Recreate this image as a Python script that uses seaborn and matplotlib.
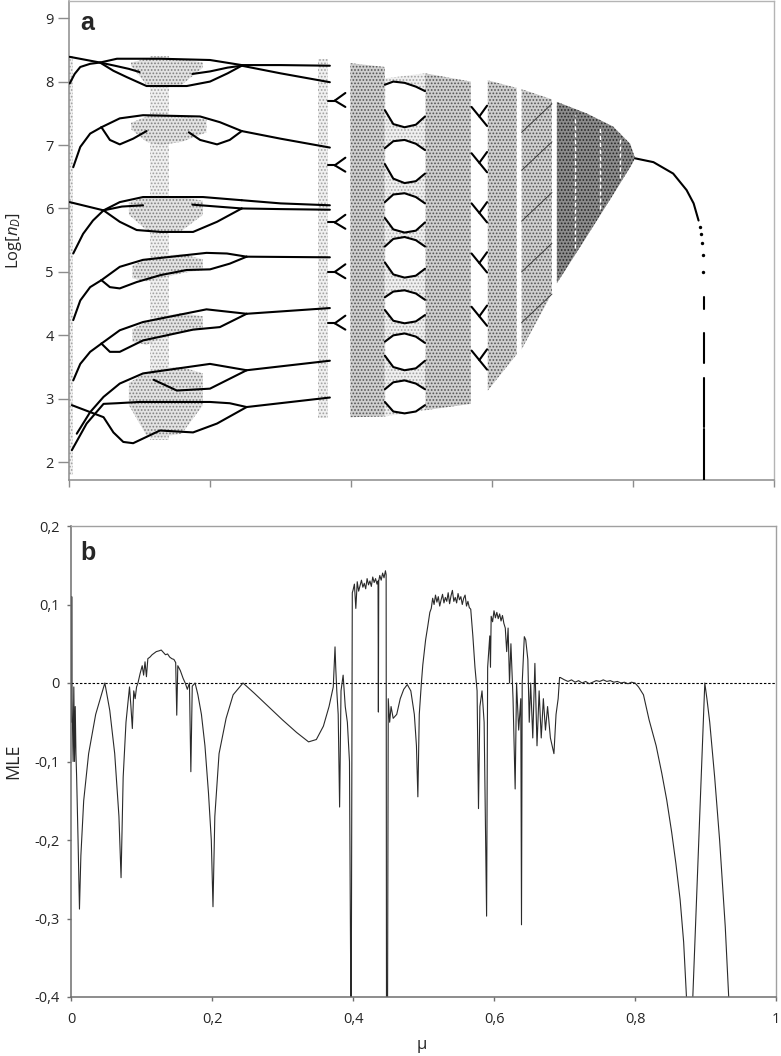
import numpy as np
import pandas as pd
import matplotlib
matplotlib.use("Agg")
import matplotlib.pyplot as plt
import seaborn as sns

# ------------------------------------------------------------------ DATA
# ---- panel a : branch curves (mu, Log[n_D])
br8_a = ([0.001, 0.044, 0.063, 0.082, 0.110, 0.167, 0.200, 0.225, 0.245],
         [8.39, 8.30, 8.17, 8.07, 7.93, 7.93, 8.00, 8.13, 8.25])
br8_b = ([0.001, 0.008, 0.016, 0.030, 0.044, 0.068, 0.130, 0.200, 0.245],
         [7.97, 8.12, 8.23, 8.28, 8.30, 8.36, 8.36, 8.34, 8.26])
br8_c = ([0.044, 0.065, 0.085, 0.100], [8.30, 8.25, 8.20, 8.15])
br8_d = ([0.175, 0.200, 0.225, 0.245], [8.12, 8.16, 8.22, 8.25])
br8_e = ([0.245, 0.300, 0.370], [8.26, 8.26, 8.25])
br8_f = ([0.245, 0.300, 0.370], [8.25, 8.13, 7.99])

br7_rise = ([0.006, 0.016, 0.030, 0.046], [6.65, 6.97, 7.18, 7.28])
br7_up = ([0.046, 0.072, 0.105, 0.186, 0.214, 0.245], [7.28, 7.42, 7.47, 7.45, 7.36, 7.22])
br7_lo = ([0.046, 0.058, 0.072, 0.091, 0.110], [7.28, 7.08, 7.01, 7.10, 7.22])
br7_lo2 = ([0.170, 0.186, 0.210, 0.228, 0.245], [7.20, 7.08, 7.01, 7.08, 7.22])
br7_after = ([0.245, 0.300, 0.370], [7.22, 7.10, 6.96])

br6_a = ([0.001, 0.049, 0.072, 0.096, 0.130, 0.176, 0.210, 0.245],
         [6.10, 5.97, 5.79, 5.66, 5.63, 5.63, 5.79, 6.00])
br6_b = ([0.006, 0.020, 0.034, 0.049, 0.072, 0.105, 0.190, 0.245],
         [5.29, 5.60, 5.81, 5.97, 6.10, 6.18, 6.18, 6.13])
br6_c = ([0.049, 0.075, 0.105], [5.97, 6.03, 6.05])
br6_d = ([0.175, 0.210, 0.245], [6.06, 6.03, 6.00])
br6_e = ([0.245, 0.300, 0.370], [6.13, 6.08, 6.05])
br6_f = ([0.245, 0.300, 0.370], [6.00, 5.99, 5.98])

br5_rise = ([0.006, 0.016, 0.030, 0.046], [4.24, 4.55, 4.76, 4.87])
br5_up = ([0.046, 0.072, 0.105, 0.195, 0.224, 0.252], [4.87, 5.08, 5.19, 5.30, 5.29, 5.24])
br5_lo = ([0.046, 0.058, 0.072, 0.096, 0.130, 0.167, 0.200, 0.228, 0.252],
          [4.87, 4.76, 4.74, 4.84, 4.95, 5.03, 5.04, 5.13, 5.24])
br5_after = ([0.252, 0.370], [5.24, 5.23])

br4_rise = ([0.006, 0.016, 0.030, 0.046], [3.29, 3.55, 3.74, 3.87])
br4_up = ([0.046, 0.072, 0.105, 0.195, 0.252], [3.87, 4.08, 4.21, 4.41, 4.34])
br4_lo = ([0.046, 0.058, 0.072, 0.105, 0.176, 0.214, 0.252], [3.87, 3.74, 3.74, 3.92, 4.09, 4.13, 4.34])
br4_after = ([0.252, 0.370], [4.34, 4.43])

br3_rise = ([0.011, 0.030, 0.049, 0.072, 0.105, 0.200, 0.252], [2.45, 2.79, 3.03, 3.24, 3.40, 3.55, 3.45])
br3_lo = ([0.120, 0.153, 0.200, 0.252], [3.30, 3.13, 3.16, 3.45])
br3_after = ([0.252, 0.370], [3.45, 3.60])

br2_a = ([0.004, 0.049, 0.063, 0.077, 0.091, 0.110, 0.129, 0.176, 0.210, 0.252],
         [2.90, 2.71, 2.47, 2.32, 2.30, 2.40, 2.50, 2.47, 2.61, 2.87])
br2_b = ([0.004, 0.025, 0.049, 0.068, 0.100, 0.200, 0.228, 0.252],
         [2.19, 2.61, 2.92, 2.93, 2.95, 2.95, 2.93, 2.87])
br2_after = ([0.252, 0.370], [2.87, 3.02])

# small period-doubling forks near mu = 0.37-0.39
forkB_levels = [7.70, 6.68, 5.78, 5.00, 4.19]
# periodic window 0.448-0.505 (lens shaped orbits)
lensD_mu = [0.448, 0.460, 0.476, 0.492, 0.505]
lensD_upper = [[7.95, 8.00, 7.98, 7.92, 7.85], [6.95, 7.06, 7.08, 7.02, 6.92],
               [6.10, 6.22, 6.24, 6.18, 6.08], [5.40, 5.52, 5.55, 5.50, 5.40],
               [4.60, 4.69, 4.71, 4.66, 4.56], [3.90, 4.00, 4.03, 3.98, 3.88],
               [3.15, 3.26, 3.29, 3.24, 3.15]]
lensD_lower = [[7.55, 7.33, 7.28, 7.32, 7.45], [6.70, 6.47, 6.40, 6.43, 6.55],
               [5.85, 5.67, 5.62, 5.65, 5.78], [5.15, 4.96, 4.91, 4.94, 5.05],
               [4.40, 4.23, 4.19, 4.22, 4.32], [3.68, 3.50, 3.45, 3.48, 3.60],
               [2.95, 2.80, 2.77, 2.80, 2.90]]
# periodic window 0.57-0.594
forkF_levels = [7.60, 6.87, 6.08, 5.29, 4.45, 3.76]
# darker diagonal bands inside chaotic region 0.642-0.685
diagI_levels = [4.20, 5.00, 5.80, 6.60, 7.20]

# final branch after the crisis
tail_mu = [0.803, 0.829, 0.857, 0.876, 0.886, 0.893]
tail_L = [6.79, 6.73, 6.55, 6.29, 6.08, 5.81]
tail_dot_mu = [0.895, 0.897, 0.898, 0.899, 0.8998]
tail_dot_L = [5.71, 5.60, 5.45, 5.26, 5.00]
tail_dash_lo = [4.42, 3.56, 2.55, 1.72]
tail_dash_hi = [4.60, 4.03, 3.32, 2.52]

# chaotic (stippled) regions: mu, lower, upper
st_edge = ([0.000, 0.006], [1.80, 1.80], [8.40, 8.40])
st_colA = ([0.115, 0.142], [2.35, 2.35], [8.40, 8.40])
st_col36 = ([0.353, 0.367], [2.70, 2.70], [8.35, 8.35])
st_dA = [([0.088, 0.110, 0.130, 0.160, 0.190], [8.25, 7.95, 7.93, 7.95, 8.22], [8.30, 8.36, 8.37, 8.36, 8.30]),
         ([0.088, 0.110, 0.130, 0.160, 0.195], [7.25, 7.05, 7.00, 7.05, 7.20], [7.35, 7.45, 7.48, 7.46, 7.40]),
         ([0.085, 0.110, 0.130, 0.160, 0.190], [5.90, 5.66, 5.63, 5.65, 5.90], [6.10, 6.18, 6.20, 6.18, 6.12]),
         ([0.090, 0.110, 0.130, 0.160, 0.190], [4.90, 4.85, 4.90, 4.98, 5.03], [5.10, 5.20, 5.25, 5.28, 5.20]),
         ([0.090, 0.110, 0.130, 0.160, 0.190], [3.90, 3.85, 3.95, 4.05, 4.10], [4.10, 4.22, 4.30, 4.35, 4.30]),
         ([0.085, 0.110, 0.130, 0.160, 0.190], [2.90, 2.42, 2.40, 2.45, 2.90], [3.25, 3.42, 3.48, 3.50, 3.40])]
st_C = ([0.399, 0.448], [2.71, 2.72], [8.29, 8.23])
st_D = ([0.448, 0.505], [2.72, 2.82], [8.05, 8.13])
st_E = ([0.505, 0.570], [2.82, 2.92], [8.13, 8.00])
st_G = ([0.594, 0.635], [3.13, 3.70], [8.02, 7.90])
st_I = ([0.642, 0.685], [3.78, 4.66], [7.88, 7.72])
st_K = ([0.692, 0.734, 0.772, 0.796, 0.803], [4.82, 5.55, 6.22, 6.65, 6.79], [7.68, 7.50, 7.29, 7.02, 6.79])
cone_windows = [0.718, 0.753, 0.781]

# ---- panel b : maximal Lyapunov exponent
mle_a_mu = [0.0005, 0.001, 0.0015, 0.003, 0.004, 0.005, 0.006, 0.007, 0.008, 0.010,
            0.012, 0.014, 0.018, 0.025, 0.035, 0.048, 0.055, 0.062, 0.068, 0.071,
            0.074, 0.078, 0.083, 0.085, 0.087, 0.089, 0.091, 0.093, 0.095, 0.098,
            0.101, 0.103, 0.105, 0.107, 0.109, 0.112, 0.115, 0.118, 0.121, 0.125,
            0.128, 0.131, 0.134, 0.137, 0.140, 0.143, 0.146, 0.1485, 0.150, 0.1515,
            0.155, 0.159, 0.162, 0.165, 0.168, 0.170, 0.172, 0.176, 0.180, 0.185,
            0.190, 0.195, 0.199, 0.2014, 0.204, 0.210, 0.220, 0.230, 0.244]
mle_a_v = [-0.05, 0.11, -0.02, -0.1, -0.005, -0.1, -0.03, -0.09, -0.12, -0.2,
           -0.288, -0.22, -0.15, -0.09, -0.04, 0.0, -0.035, -0.09, -0.17, -0.248,
           -0.12, -0.05, -0.005, -0.03, -0.058, -0.01, -0.02, -0.005, 0.0, 0.012,
           0.022, 0.01, 0.027, 0.008, 0.031, 0.033, 0.036, 0.038, 0.040, 0.041,
           0.042, 0.039, 0.036, 0.037, 0.033, 0.031, 0.030, 0.026, -0.041, 0.022,
           0.016, 0.006, 0.0, -0.008, 0.0, -0.113, -0.004, 0.0, -0.015, -0.04,
           -0.08, -0.14, -0.2, -0.285, -0.17, -0.09, -0.045, -0.015, 0.0]
mle_b_mu = [0.26, 0.28, 0.30, 0.32, 0.337, 0.348, 0.358, 0.366, 0.372, 0.3745,
            0.3755, 0.377, 0.379, 0.381, 0.383, 0.386, 0.389, 0.392, 0.395, 0.397,
            0.3975, 0.399, 0.400, 0.402, 0.404, 0.406, 0.408, 0.410, 0.412, 0.414,
            0.416, 0.418, 0.420, 0.422, 0.424, 0.426, 0.428, 0.430, 0.432, 0.434,
            0.4355, 0.436, 0.4365, 0.438, 0.440, 0.442, 0.444, 0.446, 0.447, 0.4475,
            0.448]
mle_b_v = [-0.013, -0.03, -0.047, -0.063, -0.075, -0.072, -0.055, -0.03, -0.005, 0.046,
           0.02, -0.01, -0.04, -0.158, -0.01, 0.01, -0.03, -0.05, -0.1, -0.42,
           -0.42, 0.115, 0.118, 0.126, 0.095, 0.129, 0.117, 0.124, 0.131, 0.122,
           0.127, 0.120, 0.133, 0.125, 0.130, 0.123, 0.135, 0.128, 0.133, 0.126,
           0.13, -0.037, 0.13, 0.137, 0.131, 0.140, 0.134, 0.143, 0.138, -0.42,
           -0.42]
mle_c_mu = [0.449, 0.450, 0.452, 0.454, 0.457, 0.462, 0.467, 0.472, 0.477, 0.482,
            0.487, 0.490, 0.492, 0.494, 0.497, 0.499, 0.503, 0.506, 0.509, 0.511,
            0.513, 0.515, 0.517, 0.519, 0.521, 0.523, 0.525, 0.527, 0.529, 0.531,
            0.533, 0.535, 0.537, 0.539, 0.541, 0.543, 0.545, 0.547, 0.549, 0.551,
            0.553, 0.555, 0.557, 0.559, 0.561, 0.563, 0.565, 0.567, 0.570, 0.573,
            0.576, 0.578, 0.580, 0.583, 0.586, 0.5895, 0.591, 0.594, 0.595, 0.596,
            0.598, 0.600, 0.602, 0.604, 0.606, 0.608, 0.610, 0.612, 0.614, 0.616,
            0.618, 0.620, 0.622, 0.624, 0.627, 0.630, 0.632, 0.635, 0.638, 0.639,
            0.640, 0.643, 0.645, 0.648, 0.650, 0.652, 0.655, 0.658, 0.661, 0.664,
            0.667, 0.670, 0.673, 0.676, 0.680, 0.685, 0.688, 0.691, 0.693]
mle_c_v = [-0.42, -0.02, -0.05, -0.03, -0.045, -0.04, -0.02, -0.008, -0.002, -0.01,
           -0.04, -0.08, -0.145, -0.04, 0.0, 0.023, 0.055, 0.072, 0.09, 0.095,
           0.108, 0.100, 0.112, 0.103, 0.110, 0.098, 0.106, 0.113, 0.102, 0.109,
           0.104, 0.115, 0.101, 0.111, 0.118, 0.104, 0.109, 0.102, 0.114, 0.106,
           0.110, 0.100, 0.108, 0.112, 0.098, 0.104, 0.096, 0.094, 0.06, 0.02,
           -0.01, -0.16, -0.03, -0.01, -0.05, -0.297, 0.02, 0.06, 0.02, 0.085,
           0.078, 0.092, 0.083, 0.090, 0.082, 0.088, 0.079, 0.086, 0.076, 0.07,
           0.04, 0.07, 0.0, 0.05, -0.02, -0.135, 0.0, -0.06, -0.02, -0.308,
           0.0, 0.059, 0.055, 0.03, -0.05, 0.0, -0.07, 0.025, -0.08, -0.01,
           -0.07, -0.02, -0.06, -0.03, -0.07, -0.09, -0.04, -0.02, 0.007]
mle_d_mu = [0.694, 0.700, 0.705, 0.710, 0.715, 0.720, 0.725, 0.730, 0.735, 0.740, 0.745,
            0.750, 0.755, 0.760, 0.765, 0.770, 0.775, 0.780, 0.785, 0.790, 0.795, 0.800]
mle_d_v = [0.007, 0.004, 0.002, 0.004, 0.001, 0.003, 0.0, 0.002, -0.001, 0.001, 0.003,
           0.002, 0.004, 0.002, 0.003, 0.001, 0.002, 0.0, 0.001, -0.001, 0.001, 0.0]
mle_e_mu = [0.805, 0.812, 0.820, 0.830, 0.838, 0.845, 0.852, 0.858, 0.864, 0.869, 0.873, 0.877,
            0.882, 0.886, 0.890, 0.894, 0.897, 0.899, 0.902, 0.906, 0.913, 0.920, 0.928, 0.934]
mle_e_v = [-0.005, -0.015, -0.047, -0.08, -0.115, -0.149, -0.19, -0.23, -0.276, -0.33, -0.4, -0.45,
           -0.4, -0.306, -0.212, -0.118, -0.047, 0.0, -0.02, -0.05, -0.12, -0.2, -0.31, -0.42]

xticks = [0, 0.2, 0.4, 0.6, 0.8, 1.0]
xticklabels = ["0", "0,2", "0,4", "0,6", "0,8", "1"]
yticksA = [2, 3, 4, 5, 6, 7, 8, 9]
yticksB = [-0.4, -0.3, -0.2, -0.1, 0.0, 0.1, 0.2]
yticklabelsB = ["-0,4", "-0,3", "-0,2", "-0,1", "0", "0,1", "0,2"]

# ------------------------------------------------------------------ STYLE
sns.set_style("white")
plt.rcParams["font.family"] = ["Open Sans", "DejaVu Sans"]
plt.rcParams["mathtext.fontset"] = "custom"
plt.rcParams["mathtext.it"] = "Open Sans:italic"
plt.rcParams["mathtext.rm"] = "Open Sans"
plt.rcParams["hatch.linewidth"] = 0.8

fig = plt.figure(figsize=(7.81, 10.56), dpi=100)
axA = fig.add_axes([69 / 781, 1 - 480 / 1056, 705 / 781, 479 / 1056])
axB = fig.add_axes([71 / 781, 1 - 997 / 1056, 705 / 781, 471 / 1056])

# ------------------------------------------------------------------ PANEL a
def stipple(region, face, dots, hatch="....."):
    x, lo, hi = region
    axA.fill_between(x, lo, hi, facecolor=face, edgecolor=dots, hatch=hatch,
                     linewidth=0, zorder=1)

light = ("#f0f0f0", "#a0a0a0")
lmed = ("#e2e2e2", "#808080")
medium = ("#cfcfcf", "#555555")
dark = ("#8c8c8c", "#262626")

stipple(st_edge, *light)
stipple(st_colA, *light)
stipple(st_col36, *light)
for r in st_dA:
    stipple(r, *lmed)
stipple(st_C, *medium)
stipple(st_D, *light)
stipple(st_E, *medium)
stipple(st_G, *medium)
stipple(st_I, *medium)
stipple(st_K, *dark)

rows = []
def add(name, mu, L):
    for i, (m, l) in enumerate(zip(mu, L)):
        rows.append({"branch": name, "mu": m, "L": l, "i": i})

named = dict(br8_a=br8_a, br8_b=br8_b, br8_c=br8_c, br8_d=br8_d, br8_e=br8_e, br8_f=br8_f,
             br7_rise=br7_rise, br7_up=br7_up, br7_lo=br7_lo, br7_lo2=br7_lo2, br7_after=br7_after,
             br6_a=br6_a, br6_b=br6_b, br6_c=br6_c, br6_d=br6_d, br6_e=br6_e, br6_f=br6_f,
             br5_rise=br5_rise, br5_up=br5_up, br5_lo=br5_lo, br5_after=br5_after,
             br4_rise=br4_rise, br4_up=br4_up, br4_lo=br4_lo, br4_after=br4_after,
             br3_rise=br3_rise, br3_lo=br3_lo, br3_after=br3_after,
             br2_a=br2_a, br2_b=br2_b, br2_after=br2_after)
for k, (mu, L) in named.items():
    add(k, mu, L)
for j, lv in enumerate(forkB_levels):
    add(f"fB{j}s", [0.368, 0.377], [lv, lv])
    add(f"fB{j}u", [0.377, 0.392], [lv, lv + 0.12])
    add(f"fB{j}d", [0.377, 0.392], [lv, lv - 0.10])
for j, lv in enumerate(forkF_levels):
    add(f"fF{j}a", [0.571, 0.593], [lv, lv - 0.30])
    add(f"fF{j}b", [0.582, 0.593], [lv - 0.15, lv + 0.02])
add("tail", tail_mu, tail_L)
for j, (lo, hi) in enumerate(zip(tail_dash_lo, tail_dash_hi)):
    add(f"dash{j}", [0.9007, 0.9007], [lo, hi])

# white lenses of the periodic window
for up, lo in zip(lensD_upper, lensD_lower):
    axA.fill_between(lensD_mu, lo, up, facecolor="white", linewidth=0, zorder=2)
for j, (up, lo) in enumerate(zip(lensD_upper, lensD_lower)):
    add(f"lensU{j}", lensD_mu, up)
    add(f"lensL{j}", lensD_mu, lo)

df_lines = pd.DataFrame(rows)
sns.lineplot(data=df_lines, x="mu", y="L", units="branch", estimator=None, sort=False,
             color="black", linewidth=1.5, ax=axA, legend=False, zorder=3)

thin_rows = []
for j, lv in enumerate(diagI_levels):
    for m, l in zip([0.642, 0.685], [lv, lv + 0.45]):
        thin_rows.append({"branch": f"dI{j}", "mu": m, "L": l})
df_thin = pd.DataFrame(thin_rows)
sns.lineplot(data=df_thin, x="mu", y="L", units="branch", estimator=None, sort=False,
             color="#404040", linewidth=0.7, ax=axA, legend=False, zorder=3)

# white dashed periodic windows inside the cone
cw_rows = []
for j, m in enumerate(cone_windows):
    lo = np.interp(m, st_K[0], st_K[1]); hi = np.interp(m, st_K[0], st_K[2])
    cw_rows += [{"branch": j, "mu": m, "L": lo + 0.1}, {"branch": j, "mu": m, "L": hi - 0.1}]
sns.lineplot(data=pd.DataFrame(cw_rows), x="mu", y="L", units="branch", estimator=None,
             sort=False, color="white", linewidth=1.0, linestyle=(0, (3, 2)), ax=axA,
             legend=False, zorder=3)

sns.scatterplot(x=tail_dot_mu, y=tail_dot_L, color="black", s=6, linewidth=0, ax=axA, zorder=3)

axA.set_xlim(0, 1)
axA.set_ylim(1.72, 9.27)
axA.set_xticks(xticks)
axA.set_xticklabels([])
axA.set_yticks(yticksA)
axA.set_yticklabels([str(t) for t in yticksA])
axA.tick_params(axis="y", direction="out", length=8, width=1, color="#8c8c8c",
                labelsize=10.5, pad=3, left=True)
axA.tick_params(axis="x", direction="out", length=5, width=1, color="#8c8c8c", bottom=True)
for s in ["left", "bottom"]:
    axA.spines[s].set_color("#8c8c8c"); axA.spines[s].set_linewidth(1.1)
for s in ["top", "right"]:
    axA.spines[s].set_color("#b4b4b4"); axA.spines[s].set_linewidth(1.0)
axA.set_xlabel("")
axA.set_ylabel(r"Log[$n_D$]", fontsize=12, va="center")
axA.yaxis.set_label_coords(-0.078, 0.5)

# ------------------------------------------------------------------ PANEL b
mle_mu = mle_a_mu + mle_b_mu + mle_c_mu + mle_d_mu + mle_e_mu
mle_v = mle_a_v + mle_b_v + mle_c_v + mle_d_v + mle_e_v
df_mle = pd.DataFrame({"mu": mle_mu, "MLE": mle_v})
axB.axhline(0, color="black", linewidth=0.8, linestyle=(0, (2.2, 1.6)), zorder=1)
sns.lineplot(data=df_mle, x="mu", y="MLE", sort=False, estimator=None, color="#2a2a2a",
             linewidth=0.8, ax=axB, zorder=2)

axB.set_xlim(0, 1)
axB.set_ylim(-0.4, 0.2)
axB.set_xticks(xticks)
axB.set_xticklabels(xticklabels)
axB.set_yticks(yticksB)
axB.set_yticklabels(yticklabelsB)
axB.tick_params(axis="both", direction="out", length=3, width=1, color="#6e6e6e",
                labelsize=10.5, left=True, bottom=True)
axB.tick_params(axis="x", pad=8)
axB.tick_params(axis="y", pad=5)
for s in ["left", "bottom"]:
    axB.spines[s].set_color("#6e6e6e"); axB.spines[s].set_linewidth(1.1)
for s in ["top", "right"]:
    axB.spines[s].set_color("#a0a0a0"); axB.spines[s].set_linewidth(1.0)
axB.set_xlabel("μ", fontsize=12, va="center")
axB.xaxis.set_label_coords(0.498, -0.102)
axB.set_ylabel("MLE", fontsize=13, va="center")
axB.yaxis.set_label_coords(-0.082, 0.5)

fig.text(80 / 781, 1 - 30 / 1056, "a", fontsize=18, fontweight="bold",
         family=["Liberation Sans", "DejaVu Sans"], va="baseline")
fig.text(80 / 781, 1 - 560 / 1056, "b", fontsize=18, fontweight="bold",
         family=["Liberation Sans", "DejaVu Sans"], va="baseline")

fig.savefig("out.png", dpi=100)
